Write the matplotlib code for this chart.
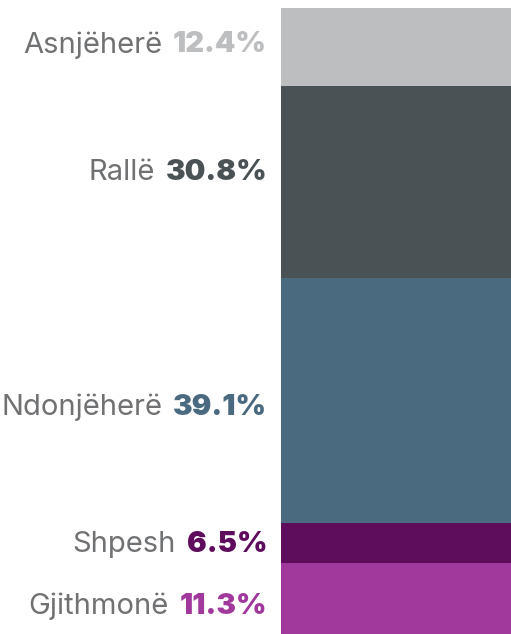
import matplotlib.pyplot as plt

# data (top to bottom)
categories = ["Asnjëherë", "Rallë", "Ndonjëherë", "Shpesh", "Gjithmonë"]
values = [12.4, 30.8, 39.1, 6.5, 11.3]
colors = ["#bdbec0", "#4a5256", "#4a6a80", "#5e0c5c", "#a1399d"]

label_color = "#707173"
# small vertical nudges of the labels (pixels, positive = down)
nudges = [-2, -9, 7, 1, 8]

fig = plt.figure(figsize=(5.11, 6.34), dpi=100)
ax = fig.add_axes([281 / 511, 0, 230 / 511, 626 / 634])

total = sum(values)
bottom = total
centers = []
for val, col in zip(values, colors):
    bottom -= val
    ax.bar(0, val, bottom=bottom, width=1.0, color=col, linewidth=0)
    centers.append(bottom + val / 2)

ax.set_xlim(-0.5, 0.5)
ax.set_ylim(0, total)
ax.axis("off")

fig.canvas.draw()
renderer = fig.canvas.get_renderer()

# percentages right-aligned at fixed x, category text to their left
x_pct = 267 / 511
for cat, val, col, yc, dn in zip(categories, values, colors, centers, nudges):
    y_px = ax.transData.transform((0, yc))[1] - dn
    y_fig = y_px / fig.bbox.height
    pct = fig.text(x_pct, y_fig, f"{val:.1f}%", ha="right", va="center",
                   fontsize=21, fontweight="black", family="Inter", color=col)
    bb = pct.get_window_extent(renderer)
    x_cat = (bb.x0 - 11) / fig.bbox.width
    fig.text(x_cat, y_fig, cat, ha="right", va="center", fontsize=21,
             family="Inter", color=label_color)

fig.savefig("out.png", dpi=100)
